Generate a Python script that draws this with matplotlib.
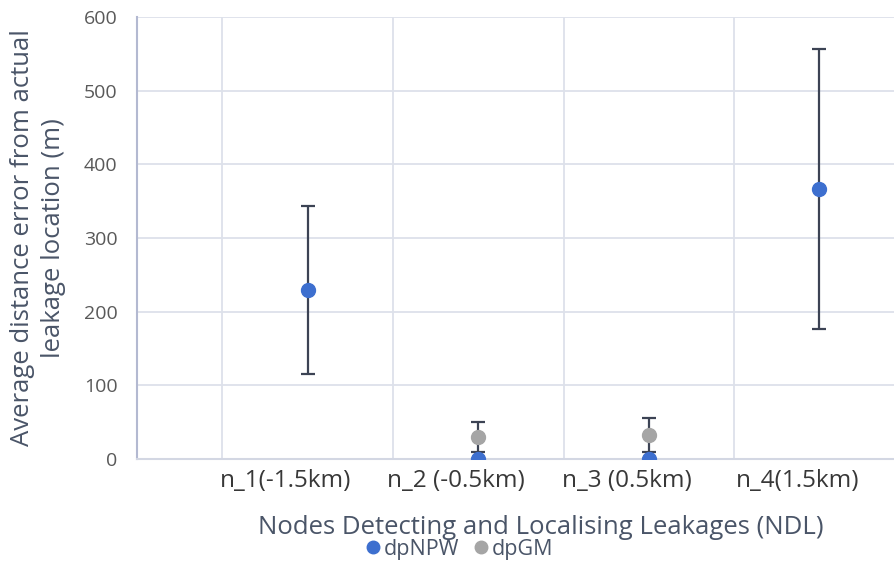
import matplotlib
matplotlib.use("Agg")
import matplotlib.pyplot as plt
from matplotlib.transforms import ScaledTranslation
from matplotlib.lines import Line2D

# ---- data ----
categories = ["n_1(-1.5km)", "n_2 (-0.5km)", "n_3 (0.5km)", "n_4(1.5km)"]
cat_x = [2, 4, 6, 8]
npw_x = [2, 4, 6, 8]
npw_y = [229, 0, 0, 366]
npw_err = [114, 0, 0, 190]
gm_x = [4, 6]
gm_y = [30, 33]
gm_err = [20, 23]
y_ticks = [0, 100, 200, 300, 400, 500, 600]

FONT = ["Open Sans", "DejaVu Sans"]
plt.rcParams["font.family"] = FONT

BLUE = "#3d6fcf"
GRAY = "#a5a5a5"
ERR = "#3c4354"
GRID = "#dde1ea"
TXT_AX = "#4a5568"
TICK_Y = "#595959"
TICK_X = "#383838"

fig = plt.figure(figsize=(8.94, 5.66), dpi=100)
ax = fig.add_axes([137/894, 1 - 459/566, (894 - 137)/894, (459 - 17)/566])

ax.set_xlim(0, (894 - 137) / 85.3)
ax.set_ylim(0, 600)
ax.set_yticks(y_ticks)
ax.set_xticks(range(0, 9), minor=True)
ax.grid(True, which="minor", axis="x", color=GRID, lw=1.3)
ax.grid(True, which="major", axis="y", color=GRID, lw=1.3)
ax.set_axisbelow(True)

ax.errorbar(npw_x, npw_y, yerr=npw_err, fmt="o", color=BLUE, ms=10,
            ecolor=ERR, elinewidth=1.6, capsize=5, capthick=1.6, zorder=3)
ax.errorbar(gm_x, gm_y, yerr=gm_err, fmt="o", color=GRAY, ms=10,
            ecolor=ERR, elinewidth=1.6, capsize=5, capthick=1.6, zorder=3)

ax.set_xticks(cat_x)
ax.set_xticklabels(categories)
ax.tick_params(axis="x", which="both", length=0, pad=7, labelsize=17.5, labelcolor=TICK_X)
ax.tick_params(axis="y", length=0, pad=14, labelsize=14, labelcolor=TICK_Y)
off = ScaledTranslation(-22/100, 0, fig.dpi_scale_trans)
for lab in ax.get_xticklabels():
    lab.set_transform(lab.get_transform() + off)

for s in ["top", "right"]:
    ax.spines[s].set_visible(False)
ax.spines["left"].set_color("#b3b9d1")
ax.spines["left"].set_linewidth(1.5)
ax.spines["bottom"].set_color("#d3d7e3")
ax.spines["bottom"].set_linewidth(1.5)

fig.text(541/894, 1 - 527/566, "Nodes Detecting and Localising Leakages (NDL)",
         ha="center", va="center", fontsize=18.5, color=TXT_AX)
fig.text(38/894, 1 - 238/566, "Average distance error from actual\nleakage location (m)",
         ha="center", va="center", rotation=90, fontsize=18.5, color=TXT_AX,
         linespacing=1.35)

handles = [Line2D([], [], marker="o", ls="", color=BLUE, ms=9),
           Line2D([], [], marker="o", ls="", color=GRAY, ms=9)]
fig.legend(handles, ["dpNPW", "dpGM"], loc="center", bbox_to_anchor=(458/894, 1 - 549/566),
           ncol=2, frameon=False, fontsize=15.5, handletextpad=0.0, columnspacing=0.5,
           labelcolor=TXT_AX, handlelength=1.0)

fig.savefig("out.png", dpi=100)
